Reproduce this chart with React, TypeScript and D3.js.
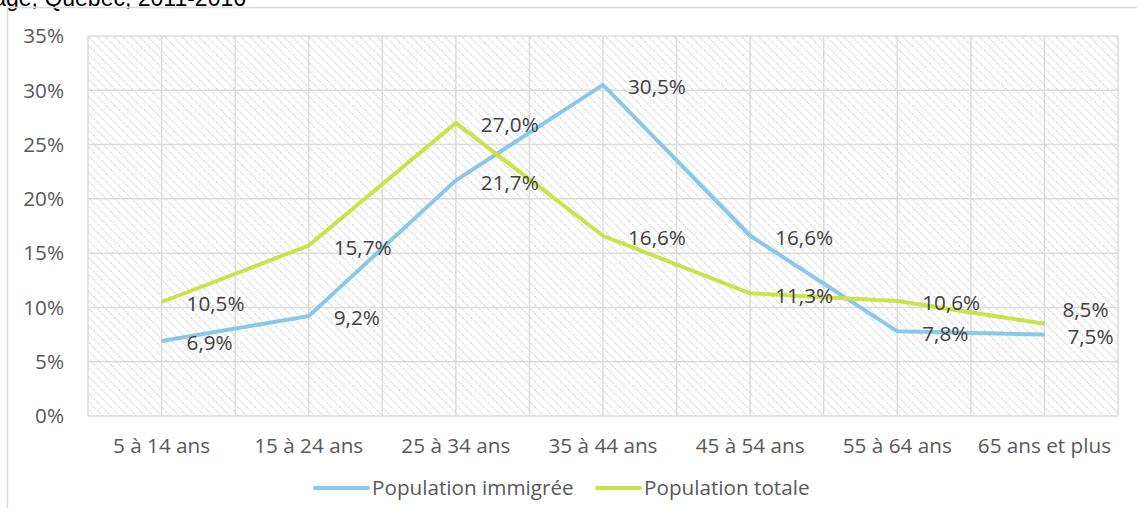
import React from "react";
import * as d3 from "d3";

const categories = ["5 à 14 ans", "15 à 24 ans", "25 à 34 ans", "35 à 44 ans", "45 à 54 ans", "55 à 64 ans", "65 ans et plus"];
const immigree = [6.9, 9.2, 21.7, 30.5, 16.6, 7.8, 7.5];
const totale = [10.5, 15.7, 27.0, 16.6, 11.3, 10.6, 8.5];
const yTicks = [0, 5, 10, 15, 20, 25, 30, 35];
const seriesNames = ["Population immigrée", "Population totale"];
const titleText = "Répartition de la population immigrée et de la population totale selon le groupe d'âge, Québec, 2011-2016";

const W = 1137, H = 508;
const margin = { left: 88, right: 19, top: 36, bottom: 92 };
const BLUE = "#89c8e8";
const GREEN = "#cbe24a";
const FONT = "'Open Sans', 'Noto Sans', sans-serif";
const FS = 20.7;

export default function App() {
  const x = d3.scaleBand<string>().domain(categories).range([margin.left, W - margin.right]).paddingInner(0).paddingOuter(0);
  const y = d3.scaleLinear().domain([0, 35]).range([H - margin.bottom, margin.top]);
  const cx = (c: string) => (x(c) ?? 0) + x.bandwidth() / 2;
  const line = d3.line<number>().x((_, i) => cx(categories[i])).y((d) => y(d));
  const fmt = (v: number) => v.toFixed(1).replace(".", ",") + "%";

  const vLines: number[] = [];
  categories.forEach((c) => {
    vLines.push(x(c) ?? 0);
    vLines.push(cx(c));
  });
  vLines.push(W - margin.right);

  const n = categories.length;
  const blueOff = (i: number) => (i === n - 1 ? [23, 2] : [25, 2]);
  const greenOff = (i: number) => (i === n - 1 ? [18, -14] : [25, 2]);

  return (
    <svg width={W} height={H} style={{ position: "absolute", left: 0, top: 0, background: "#fff" }}>
      <defs>
        <pattern id="hatch" width="6" height="6" patternUnits="userSpaceOnUse" patternTransform="rotate(-45)">
          <rect width="6" height="6" fill="#ffffff" />
          <line x1="0" y1="0" x2="0" y2="6" stroke="#d2d2d2" strokeWidth="2" strokeDasharray="1.5 1" />
        </pattern>
      </defs>
      <text x={246} y={6} textAnchor="end" fontFamily="Liberation Sans, Arial, sans-serif" fontSize={23} fill="#000">{titleText}</text>
      <rect x={7.5} y={7.5} width={W + 10} height={H + 10} fill="none" stroke="#d9d9d9" strokeWidth={1.5} />
      <rect x={margin.left} y={margin.top} width={W - margin.left - margin.right} height={H - margin.top - margin.bottom} fill="url(#hatch)" />
      {yTicks.map((t) => (
        <line key={"h" + t} x1={margin.left} x2={W - margin.right} y1={y(t)} y2={y(t)} stroke="#dcdcdc" strokeWidth={1.5} />
      ))}
      {vLines.map((v, i) => (
        <line key={"v" + i} x1={v} x2={v} y1={margin.top} y2={H - margin.bottom} stroke="#dcdcdc" strokeWidth={1.5} />
      ))}
      {yTicks.map((t) => (
        <text key={"yt" + t} x={64} y={y(t)} dy="0.35em" textAnchor="end" fontFamily={FONT} fontSize={FS} fill="#595959">{t + "%"}</text>
      ))}
      {categories.map((c) => (
        <text key={"xt" + c} x={cx(c)} y={446} dy="0.35em" textAnchor="middle" fontFamily={FONT} fontSize={FS} fill="#595959">{c}</text>
      ))}
      <path d={line(immigree) ?? ""} fill="none" stroke={BLUE} strokeWidth={4} strokeLinejoin="round" />
      <path d={line(totale) ?? ""} fill="none" stroke={GREEN} strokeWidth={4} strokeLinejoin="round" />
      {immigree.map((v, i) => (
        <text key={"bl" + i} x={cx(categories[i]) + blueOff(i)[0]} y={y(v) + blueOff(i)[1]} dy="0.35em" fontFamily={FONT} fontSize={FS} fill="#404040">{fmt(v)}</text>
      ))}
      {totale.map((v, i) => (
        <text key={"gl" + i} x={cx(categories[i]) + greenOff(i)[0]} y={y(v) + greenOff(i)[1]} dy="0.35em" fontFamily={FONT} fontSize={FS} fill="#404040">{fmt(v)}</text>
      ))}
      <g>
        <line x1={315} x2={368} y1={488} y2={488} stroke={BLUE} strokeWidth={4} strokeLinecap="round" />
        <text x={372} y={488} dy="0.35em" fontFamily={FONT} fontSize={FS} fill="#595959">{seriesNames[0]}</text>
        <line x1={597} x2={640} y1={488} y2={488} stroke={GREEN} strokeWidth={4} strokeLinecap="round" />
        <text x={644} y={488} dy="0.35em" fontFamily={FONT} fontSize={FS} fill="#595959">{seriesNames[1]}</text>
      </g>
    </svg>
  );
}
